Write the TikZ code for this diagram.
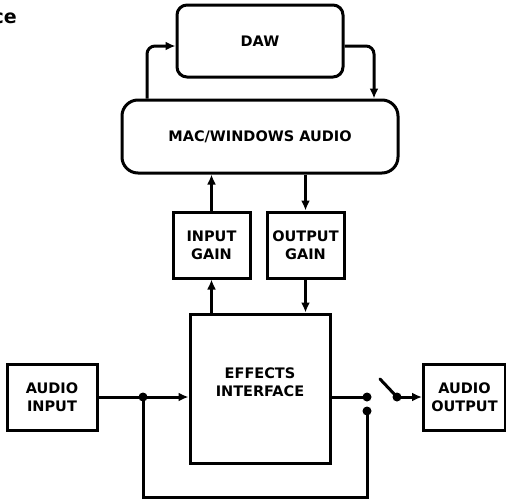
\documentclass[tikz,border=0pt]{standalone}
\usepackage{fontspec}
\setmainfont{DejaVu Sans}
\usepackage{tikz}
\usetikzlibrary{positioning}
\usetikzlibrary{arrows.meta}

\tikzset{
    block/.style={draw, line width=3pt, font=\bfseries\fontsize{14.5}{18.3}\selectfont, align=center, inner sep=0pt},
    label text/.style={font=\bfseries\fontsize{14.5}{18.3}\selectfont, align=center, inner sep=0pt},
    sig/.style={line width=3pt, -{Latex[length=10pt,width=9pt]}},
    wire/.style={line width=3pt},
    dot/.style={circle, fill, inner sep=0pt, minimum size=9pt},
}

\begin{document}
\begin{tikzpicture}[x=1pt, y=-1pt]
    \useasboundingbox (0,0) rectangle (506,499);

    % cut off caption
    \node[anchor=base east, inner sep=0pt, font=\bfseries\fontsize{19}{22}\selectfont] (caption) at (17,23) {ce};

    % blocks
    \node[block, rounded corners=10pt, minimum width=166pt, minimum height=72pt] (daw) at (260,41) {DAW};
    \node[block, rounded corners=16pt, minimum width=276pt, minimum height=73pt] (mac) at (260,136.5) {MAC/WINDOWS AUDIO};
    \node[block, minimum width=77pt, minimum height=66pt] (ingain) at (211.5,245) {INPUT\\GAIN};
    \node[block, minimum width=77pt, minimum height=66pt] (outgain) at (305.5,245) {OUTPUT\\GAIN};
    \node[block, minimum width=140pt, minimum height=149pt] (effects) at (260,388.5) {};
    \node[label text] (fxtext) at ([yshift=6.5pt]effects.center) {EFFECTS\\INTERFACE};
    \node[block, minimum width=90pt, minimum height=66pt] (ain) at (52,397) {AUDIO\\INPUT};
    \node[block, minimum width=82pt, minimum height=66pt] (aout) at (464.5,397) {AUDIO\\OUTPUT};

    % junctions and switch
    \node[dot] (split) at (143,397) {};
    \node[dot] (tap) at (367,397) {};
    \node[dot] (ret) at (367,411) {};
    \node[dot] (pivot) at (397,397) {};

    % DAW loop
    \draw[sig, rounded corners=8pt] ([xshift=-113pt]mac.north) |- ([yshift=-5pt]daw.west);
    \draw[sig, rounded corners=8pt] ([yshift=-5pt]daw.east) -| ([xshift=114pt]mac.north);

    % gain stages
    \draw[sig] (ingain.north) -- (ingain |- mac.south);
    \draw[sig] (outgain |- mac.south) -- (outgain.north);
    \draw[sig] (ingain |- effects.north) -- (ingain.south);
    \draw[sig] (outgain.south) -- (outgain |- effects.north);

    % audio path
    \draw[sig] (ain.east) -- (ain.east -| effects.west);
    \draw[wire] (effects.east |- tap) -- (tap.center);
    \draw[wire] (ret.center) -- ++(0,86) -| (split.center);
    \draw[wire, line cap=round] (pivot.center) -- ++(-17,-18);
    \draw[sig] (pivot.center) -- (aout.west);
\end{tikzpicture}
\end{document}
